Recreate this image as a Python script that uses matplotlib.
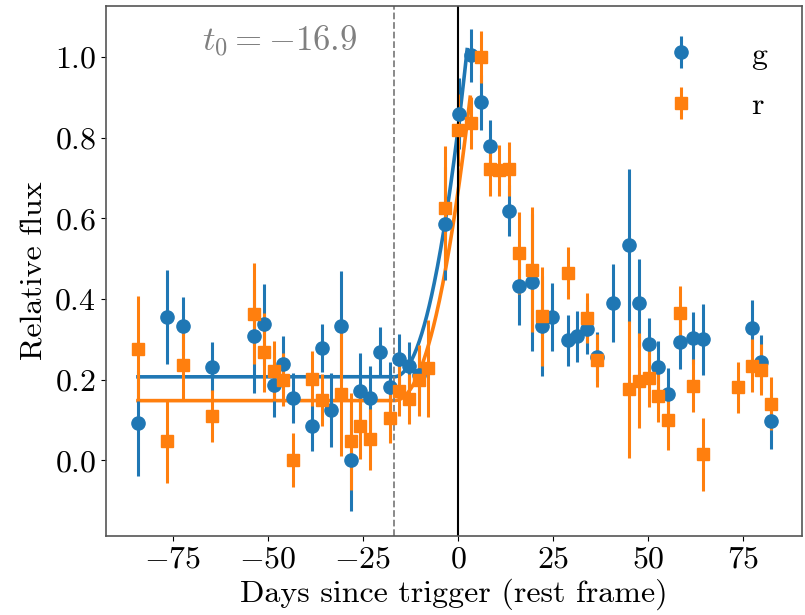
import numpy as np
import matplotlib
matplotlib.use('Agg')
import matplotlib.pyplot as plt

plt.rcParams['font.family'] = 'serif'
plt.rcParams['font.serif'] = ['cmr10']
plt.rcParams['mathtext.fontset'] = 'cm'
plt.rcParams['axes.formatter.use_mathtext'] = True

# g band
t_g = [-84.2, -76.5, -72.3, -64.6, -53.6, -51.1, -48.5, -46.0, -43.4, -38.4,
       -35.8, -33.3, -30.8, -28.2, -25.7, -23.1, -20.6, -18.0, -15.4, -12.9,
       -10.3, -3.4, 0.2, 3.35, 6.0, 8.5, 13.5, 16.1, 19.5, 22.1,
       24.7, 28.9, 31.4, 34.0, 36.5, 40.9, 45.1, 47.6, 50.2, 52.6,
       55.3, 58.5, 61.8, 64.5, 77.3, 79.8, 82.4]
f_g = [0.092, 0.356, 0.333, 0.232, 0.308, 0.337, 0.188, 0.238, 0.155, 0.084,
       0.279, 0.125, 0.332, 0.0, 0.172, 0.154, 0.268, 0.182, 0.251, 0.234,
       0.212, 0.586, 0.859, 1.004, 0.888, 0.779, 0.619, 0.431, 0.441, 0.332,
       0.355, 0.298, 0.308, 0.326, 0.257, 0.39, 0.533, 0.39, 0.288, 0.232,
       0.165, 0.294, 0.304, 0.3, 0.328, 0.244, 0.098]
e_g = [0.13, 0.117, 0.072, 0.062, 0.14, 0.1, 0.08, 0.071, 0.062, 0.062,
       0.06, 0.091, 0.137, 0.126, 0.094, 0.08, 0.062, 0.062, 0.062, 0.06,
       0.06, 0.14, 0.088, 0.065, 0.068, 0.065, 0.064, 0.096, 0.17, 0.124,
       0.084, 0.063, 0.063, 0.063, 0.06, 0.096, 0.19, 0.109, 0.064, 0.064,
       0.064, 0.067, 0.064, 0.088, 0.07, 0.067, 0.07]

# r band
t_r = [-84.2, -76.5, -72.3, -64.6, -53.6, -51.1, -48.5, -46.0, -43.4, -38.4,
       -35.8, -30.8, -28.2, -25.7, -23.1, -18.0, -15.4, -12.9, -10.3, -7.8,
       -3.4, 0.1, 3.35, 6.0, 8.5, 10.9, 13.5, 16.1, 19.5, 22.1,
       28.9, 34.0, 36.5, 45.1, 47.6, 50.2, 52.6, 55.3, 58.5, 61.8,
       64.5, 73.7, 77.3, 79.8, 82.4]
f_r = [0.277, 0.048, 0.236, 0.11, 0.364, 0.268, 0.221, 0.2, 0.0, 0.202,
       0.15, 0.165, 0.047, 0.086, 0.052, 0.104, 0.172, 0.152, 0.199, 0.228,
       0.626, 0.819, 0.837, 1.0, 0.722, 0.719, 0.723, 0.514, 0.473, 0.357,
       0.465, 0.353, 0.248, 0.176, 0.197, 0.205, 0.16, 0.099, 0.366, 0.185,
       0.015, 0.181, 0.235, 0.225, 0.14]
e_r = [0.13, 0.105, 0.09, 0.065, 0.124, 0.098, 0.075, 0.065, 0.067, 0.068,
       0.065, 0.154, 0.12, 0.082, 0.075, 0.06, 0.062, 0.063, 0.088, 0.12,
       0.154, 0.09, 0.065, 0.065, 0.066, 0.064, 0.067, 0.101, 0.156, 0.122,
       0.064, 0.062, 0.066, 0.169, 0.118, 0.073, 0.066, 0.073, 0.067, 0.066,
       0.091, 0.064, 0.066, 0.063, 0.066]

# rise fit: flux = c + A*(t - t0)^n for t > t0
t0 = -16.9
fit_g = dict(c=0.207, A=0.00162, n=2.1, t_end=2.4)
fit_r = dict(c=0.148, A=0.001187, n=2.15, t_end=3.2)

def rise(p, t_start):
    t = np.linspace(t_start, p['t_end'], 400)
    return t, p['c'] + p['A'] * np.clip(t - t0, 0, None) ** p['n']

blue = '#1f77b4'
orange = '#ff7f0e'

fig = plt.figure(figsize=(8.05, 6.15), dpi=100)
ax = fig.add_axes([0.1317, 0.1285, 0.8646, 0.8615])

tt, ff = rise(fit_g, t_g[0])
ax.plot(tt, ff, color=blue, lw=2.6)
tt, ff = rise(fit_r, t_r[0])
ax.plot(tt, ff, color=orange, lw=2.6)

ax.errorbar(t_g, f_g, yerr=e_g, fmt='o', color=blue, ms=9.5, elinewidth=2.2, label='g')
ax.errorbar(t_r, f_r, yerr=e_r, fmt='s', color=orange, ms=8.5, elinewidth=2.2, label='r')

ax.axvline(t0, color='grey', ls='--', lw=1.3)
ax.axvline(0, color='black', lw=1.5)
ax.text(-47.0, 1.04, r'$t_0 = %.1f$' % t0, color='grey', fontsize=25,
        ha='center', va='center')

ax.set_xlim(-92.6, 90.5)
ax.set_ylim(-0.1875, 1.126)
ax.set_xticks([-75, -50, -25, 0, 25, 50, 75])
ax.set_yticks([0.0, 0.2, 0.4, 0.6, 0.8, 1.0])
ax.tick_params(labelsize=23)
for s in ax.spines.values():
    s.set_color('#555555')
    s.set_linewidth(1.2)

ax.set_xlabel('Days since trigger (rest frame)', fontsize=23)
ax.set_ylabel('Relative flux', fontsize=23)
ax.legend(loc='upper right', frameon=False, fontsize=23,
          handletextpad=1.2, labelspacing=0.7, borderaxespad=0.7)

fig.savefig('out.png', dpi=100)
